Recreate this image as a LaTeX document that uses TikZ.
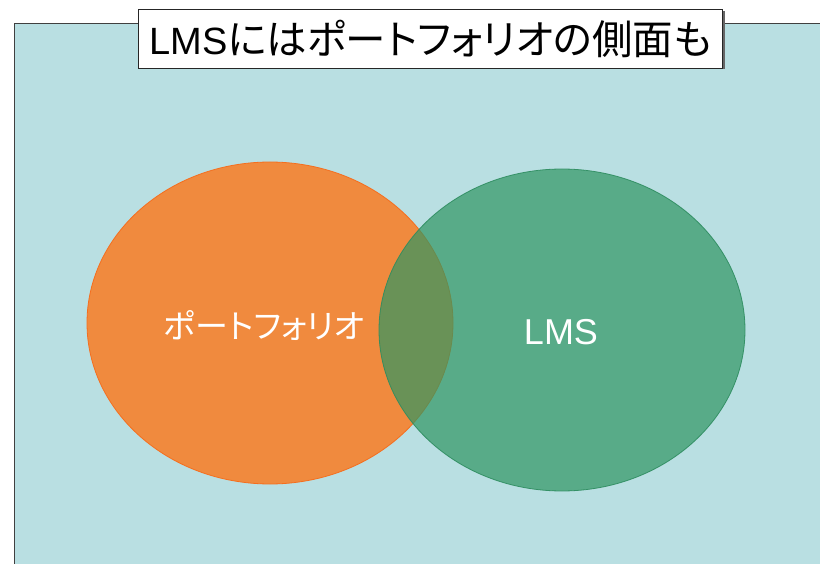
\documentclass[tikz,border=0pt]{standalone}
\usepackage{fontspec}
\newfontfamily\jp[RawFeature=+palt]{Noto Sans CJK JP}
\newfontfamily\lat{Liberation Sans}
\usetikzlibrary{shapes.geometric}
\definecolor{bgblue}{RGB}{185,223,226}
\definecolor{orfill}{RGB}{240,138,62}
\definecolor{ordraw}{RGB}{245,110,30}
\definecolor{grfill}{RGB}{48,150,98}
\definecolor{grdraw}{RGB}{45,140,95}
\tikzset{
  venn/.style={ellipse, inner sep=0pt, minimum width=366pt, minimum height=322pt, line width=0.8pt},
  vlabel/.style={text=white, inner sep=0pt},
}
\begin{document}
\begin{tikzpicture}[x=1pt,y=-1pt]
\useasboundingbox (0,0) rectangle (820,564);
\clip (0,0) rectangle (820,564);
\fill[white] (0,0) rectangle (820,564);
\draw[fill=bgblue, draw=black!75, line width=0.8pt] (14,23) rectangle (840,590);
\node (port) [venn, fill=orfill, draw=ordraw] at (270,323) {};
\node (lms) [venn, fill=grfill, fill opacity=0.7, draw=grdraw, draw opacity=0.9] at (562,330) {};
\node (portlabel) [vlabel, font=\jp\fontsize{33}{36}\selectfont] at (264,326) {ポートフォリオ};
\node (lmslabel) [vlabel, font=\lat\fontsize{36}{38}\selectfont] at (561,332) {LMS};
\fill[black!60] (140,11) rectangle (724.5,69.5);
\node (title) [draw=black!85, fill=white, line width=0.8pt, inner sep=0pt, minimum width=584pt, minimum height=59pt, font=\fontsize{38}{40}\selectfont] at (430.5,38.5) {\lat LMS\jp\fontsize{40.5}{42}\selectfont にはポートフォリオの側面も};
\end{tikzpicture}
\end{document}
